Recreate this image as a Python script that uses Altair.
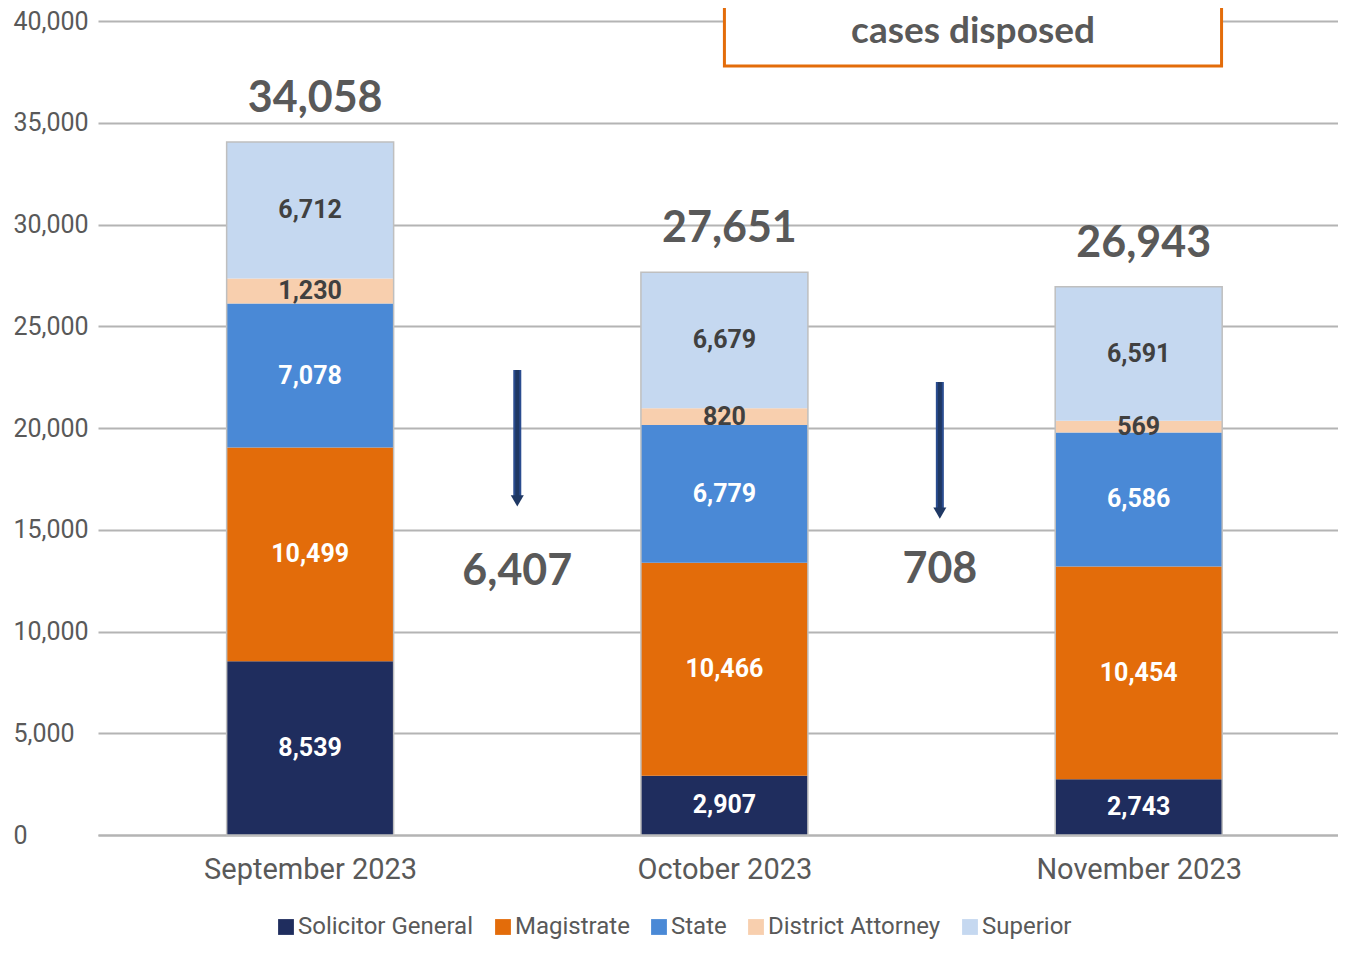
import altair as alt
import pandas as pd

months = ["September 2023", "October 2023", "November 2023"]
series = ["Solicitor General", "Magistrate", "State", "District Attorney", "Superior"]
solicitor_general = [8539, 2907, 2743]
magistrate = [10499, 10466, 10454]
state = [7078, 6779, 6586]
district_attorney = [1230, 820, 569]
superior = [6712, 6679, 6591]
totals = [34058, 27651, 26943]
differences = ["6,407", "708"]

colors = ["#1F2D5E", "#E36C0A", "#4A89D6", "#F8CFAE", "#C5D8F0"]
label_colors = ["white", "white", "white", "#404040", "#404040"]

NARROW = "Roboto, Liberation Sans, sans-serif"
BOLDF = "Lato, Open Sans, sans-serif"
GRAY = "#595959"

# --- segment table ---
rows = []
all_vals = [solicitor_general, magistrate, state, district_attorney, superior]
for i, m in enumerate(months):
    base = 0
    for s_idx, s in enumerate(series):
        v = all_vals[s_idx][i]
        rows.append({
            "x": i, "month": m, "series": s, "value": v,
            "y0": base, "y1": base + v, "ymid": base + v / 2,
            "label": f"{v:,}", "tcolor": label_colors[s_idx], "order": s_idx,
        })
        base += v
seg = pd.DataFrame(rows)

tot = pd.DataFrame({"x": list(range(len(months))), "total": totals, "zero": [0] * len(months),
                    "label": [f"{t:,}" for t in totals]})

# annotation table: arrows between bars and the change numbers
ann = pd.DataFrame({
    "x": [0.5, 1.52],
    "top": [22850, 22260],
    "bottom": [16600, 16000],
    "head": [16420, 15820],
    "label_y": [12930, 13030],
    "label": differences,
})

box = pd.DataFrame({"x": [1.0], "x2": [2.2], "y": [37790], "y2": [42000],
                    "tx": [1.6], "ty": [39450], "text": ["cases disposed"]})

xscale = alt.Scale(domain=[-0.5, 2.469], nice=False, zero=False)
yscale = alt.Scale(domain=[0, 40000], nice=False)

label_expr = "[" + ",".join(f"'{m}'" for m in months) + "][datum.value]"

x_axis = alt.Axis(values=[0, 1, 2], labelExpr=label_expr, title=None, ticks=False,
                  grid=False, domain=True, domainColor="#B4B4B4", domainWidth=2,
                  labelFont=NARROW, labelFontSize=29, labelColor=GRAY, labelPadding=20,
                  labelLimit=0)
y_axis = alt.Axis(values=list(range(0, 40001, 5000)), labelExpr="format(datum.value, ',')",
                  title=None, ticks=False,
                  tickSize=0, domain=False, grid=True, gridColor="#B4B4B4", gridWidth=2,
                  labelFont=NARROW, labelFontSize=25, labelColor=GRAY, labelAlign="left",
                  labelPadding=85, labelLimit=0)

bars = alt.Chart(seg).mark_bar(size=167).encode(
    x=alt.X("x:Q", scale=xscale, axis=x_axis),
    y=alt.Y("y0:Q", scale=yscale, axis=y_axis),
    y2="y1:Q",
    color=alt.Color("series:N", scale=alt.Scale(domain=series, range=colors),
                    legend=alt.Legend(title=None, orient="none", direction="horizontal",
                                      legendX=176, legendY=894, symbolType="square",
                                      symbolSize=250, symbolStrokeWidth=0,
                                      labelFont=NARROW, labelFontSize=24, labelColor=GRAY,
                                      labelOffset=0, columnPadding=17, labelLimit=0)),
)

outline = alt.Chart(tot).mark_bar(size=167, fillOpacity=0, stroke="#BFBFBF",
                                  strokeWidth=1.5).encode(
    x=alt.X("x:Q", scale=xscale), y=alt.Y("zero:Q", scale=yscale), y2="total:Q")

seg_text = alt.Chart(seg).mark_text(font=NARROW, fontSize=25, fontWeight="bold",
                                    baseline="middle").encode(
    x=alt.X("x:Q", scale=xscale), y=alt.Y("ymid:Q", scale=yscale),
    text="label:N", color=alt.Color("tcolor:N", scale=None, legend=None))

tot_text = alt.Chart(tot).mark_text(font=BOLDF, fontSize=43, fontWeight="bold",
                                    color=GRAY, baseline="middle", dy=-43, dx=5).encode(
    x=alt.X("x:Q", scale=xscale), y=alt.Y("total:Q", scale=yscale), text="label:N")

arrow_shaft = alt.Chart(ann).mark_rule(color="#2A4C8F", strokeWidth=8).encode(
    x=alt.X("x:Q", scale=xscale), y=alt.Y("top:Q", scale=yscale), y2="bottom:Q")
arrow_core = alt.Chart(ann).mark_rule(color="#1F3864", strokeWidth=4).encode(
    x=alt.X("x:Q", scale=xscale), y=alt.Y("top:Q", scale=yscale), y2="bottom:Q")
arrow_head = alt.Chart(ann).mark_point(shape="triangle-down", filled=True, size=170,
                                       color="#1F3864", opacity=1).encode(
    x=alt.X("x:Q", scale=xscale), y=alt.Y("head:Q", scale=yscale))
diff_text = alt.Chart(ann).mark_text(font=BOLDF, fontSize=43, fontWeight="bold",
                                     color=GRAY, baseline="middle").encode(
    x=alt.X("x:Q", scale=xscale), y=alt.Y("label_y:Q", scale=yscale), text="label:N")

box_rect = alt.Chart(box).mark_rect(fill="white", stroke="#E36C0A", strokeWidth=3,
                                    clip=False).encode(
    x=alt.X("x:Q", scale=xscale), x2="x2:Q",
    y=alt.Y("y:Q", scale=yscale), y2="y2:Q")
box_text = alt.Chart(box).mark_text(font=BOLDF, fontSize=37, fontWeight="bold",
                                    color=GRAY, baseline="middle").encode(
    x=alt.X("tx:Q", scale=xscale), y=alt.Y("ty:Q", scale=yscale), text="text:N")

chart = alt.layer(bars, outline, seg_text, tot_text, arrow_shaft, arrow_core, arrow_head,
                  diff_text, box_rect, box_text).properties(
    width=1240, height=814,
    autosize=alt.AutoSizeParams(type="none"),
    padding={"left": 90, "top": 13, "right": 0, "bottom": 109},
).configure_view(stroke=None)

chart.save("out.html", embed_options={"renderer": "svg", "actions": False})
